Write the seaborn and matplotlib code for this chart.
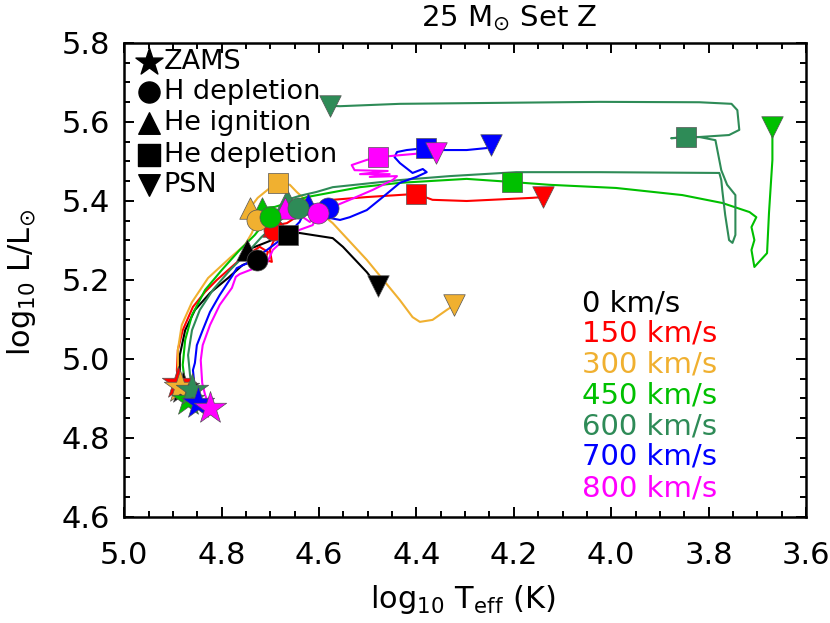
import numpy as np
import pandas as pd
import matplotlib
matplotlib.use("Agg")
import matplotlib.pyplot as plt
import seaborn as sns
from matplotlib.ticker import MultipleLocator

# ---------------- data ----------------
speeds = ["0 km/s", "150 km/s", "300 km/s", "450 km/s", "600 km/s", "700 km/s", "800 km/s"]
colors = ["#000000", "#FF0000", "#F0B030", "#00C000", "#2E8B57", "#0000FF", "#FF00FF"]

T_0 = [4.880, 4.886, 4.886, 4.875, 4.855, 4.824, 4.787, 4.757, 4.728, 4.742, 4.748, 4.711,
       4.681, 4.664, 4.640, 4.572, 4.551, 4.502, 4.480]
L_0 = [4.927, 4.959, 5.010, 5.073, 5.124, 5.167, 5.205, 5.238, 5.251, 5.268, 5.276, 5.294,
       5.309, 5.314, 5.319, 5.306, 5.284, 5.220, 5.185]

T_150 = [4.890, 4.892, 4.890, 4.880, 4.859, 4.834, 4.810, 4.763, 4.722, 4.705, 4.711, 4.697,
         4.701, 4.691, 4.693, 4.695, 4.666, 4.640, 4.605, 4.572, 4.502, 4.400, 4.367, 4.297,
         4.162, 4.141]
L_150 = [4.939, 4.972, 5.023, 5.073, 5.132, 5.170, 5.200, 5.251, 5.284, 5.271, 5.251, 5.246,
         5.276, 5.306, 5.327, 5.337, 5.344, 5.365, 5.390, 5.403, 5.410, 5.418, 5.403, 5.400,
         5.408, 5.410]

T_300 = [4.886, 4.890, 4.890, 4.882, 4.861, 4.828, 4.783, 4.752, 4.738, 4.728, 4.742, 4.726,
         4.701, 4.685, 4.660, 4.646, 4.605, 4.572, 4.502, 4.434, 4.408, 4.393, 4.367, 4.338,
         4.322]
L_300 = [4.929, 4.972, 5.023, 5.086, 5.144, 5.205, 5.256, 5.289, 5.319, 5.352, 5.382, 5.408,
         5.433, 5.446, 5.441, 5.423, 5.377, 5.344, 5.251, 5.149, 5.106, 5.094, 5.099, 5.124,
         5.137]

T_450 = [4.869, 4.875, 4.880, 4.875, 4.861, 4.834, 4.800, 4.763, 4.732, 4.711, 4.701, 4.718,
         4.691, 4.625, 4.516, 4.434, 4.297, 4.203, 4.127, 3.990, 3.854, 3.772, 3.716, 3.702,
         3.712, 3.706, 3.712, 3.706, 3.680, 3.676, 3.669, 3.669]
L_450 = [4.896, 4.934, 4.985, 5.048, 5.111, 5.175, 5.225, 5.276, 5.314, 5.347, 5.359, 5.382,
         5.385, 5.410, 5.435, 5.446, 5.456, 5.448, 5.441, 5.433, 5.415, 5.395, 5.372, 5.359,
         5.334, 5.301, 5.276, 5.233, 5.268, 5.370, 5.504, 5.587]

T_600 = [4.861, 4.865, 4.869, 4.861, 4.845, 4.818, 4.783, 4.746, 4.718, 4.691, 4.664, 4.644,
         4.666, 4.640, 4.605, 4.572, 4.434, 4.332, 4.195, 4.024, 3.778, 3.774, 3.772, 3.766,
         3.758, 3.751, 3.745, 3.745, 3.762, 3.774, 3.780, 3.786, 3.819, 3.846, 3.877, 3.819,
         3.758, 3.737, 3.741, 3.753, 3.819, 4.024, 4.434, 4.557, 4.578]
L_600 = [4.922, 4.959, 5.010, 5.073, 5.124, 5.175, 5.225, 5.271, 5.309, 5.339, 5.367, 5.382,
         5.403, 5.413, 5.423, 5.435, 5.453, 5.463, 5.473, 5.473, 5.471, 5.453, 5.428, 5.365,
         5.301, 5.294, 5.314, 5.415, 5.441, 5.478, 5.516, 5.554, 5.562, 5.562, 5.559, 5.562,
         5.567, 5.580, 5.630, 5.646, 5.650, 5.651, 5.646, 5.640, 5.641]

T_700 = [4.849, 4.855, 4.859, 4.855, 4.851, 4.839, 4.824, 4.804, 4.777, 4.769, 4.742, 4.707,
         4.666, 4.640, 4.623, 4.603, 4.582, 4.578, 4.557, 4.537, 4.502, 4.469, 4.434, 4.400,
         4.379, 4.387, 4.408, 4.434, 4.445, 4.440, 4.420, 4.381, 4.346, 4.297, 4.256, 4.246]
L_700 = [4.889, 4.922, 4.972, 4.990, 5.035, 5.073, 5.119, 5.162, 5.213, 5.230, 5.246, 5.276,
         5.314, 5.347, 5.392, 5.390, 5.382, 5.357, 5.352, 5.359, 5.377, 5.410, 5.446, 5.461,
         5.473, 5.481, 5.471, 5.496, 5.511, 5.524, 5.529, 5.534, 5.529, 5.529, 5.534, 5.542]

T_800 = [4.824, 4.834, 4.840, 4.843, 4.839, 4.824, 4.804, 4.779, 4.771, 4.763, 4.732, 4.707,
         4.695, 4.666, 4.640, 4.613, 4.603, 4.640, 4.670, 4.640, 4.619, 4.599, 4.572, 4.537,
         4.490, 4.449, 4.440, 4.496, 4.455, 4.516, 4.459, 4.527, 4.533, 4.502, 4.478, 4.434,
         4.379, 4.359]
L_800 = [4.876, 4.909, 4.939, 4.997, 5.035, 5.086, 5.137, 5.180, 5.208, 5.215, 5.230, 5.243,
         5.276, 5.309, 5.327, 5.339, 5.370, 5.377, 5.382, 5.365, 5.347, 5.370, 5.385, 5.403,
         5.428, 5.453, 5.463, 5.461, 5.468, 5.468, 5.476, 5.478, 5.491, 5.504, 5.511, 5.516,
         5.522, 5.522]

tracks_T = [T_0, T_150, T_300, T_450, T_600, T_700, T_800]
tracks_L = [L_0, L_150, L_300, L_450, L_600, L_700, L_800]

# evolutionary phase markers (per speed, same order as `speeds`)
zams_T = [4.880, 4.890, 4.886, 4.869, 4.861, 4.849, 4.824]
zams_L = [4.927, 4.939, 4.929, 4.896, 4.922, 4.889, 4.876]
hdep_T = [4.728, 4.693, 4.728, 4.701, 4.644, 4.582, 4.603]
hdep_L = [5.251, 5.327, 5.352, 5.359, 5.382, 5.382, 5.370]
heig_T = [4.748, 4.695, 4.742, 4.718, 4.666, 4.623, 4.670]
heig_L = [5.276, 5.337, 5.382, 5.382, 5.403, 5.392, 5.382]
hedep_T = [4.664, 4.400, 4.685, 4.203, 3.846, 4.381, 4.478]
hedep_L = [5.314, 5.418, 5.446, 5.448, 5.562, 5.534, 5.511]
psn_T = [4.480, 4.141, 4.322, 3.669, 4.578, 4.246, 4.359]
psn_L = [5.185, 5.410, 5.137, 5.587, 5.641, 5.542, 5.522]

phase_labels = ["ZAMS", "H depletion", "He ignition", "He depletion", "PSN"]

# ---------------- style ----------------
sns.set_style("white")
plt.rcParams["font.family"] = ["DejaVu Sans"]
plt.rcParams["mathtext.fontset"] = "dejavusans"
plt.rcParams["text.color"] = "black"
plt.rcParams["xtick.color"] = "black"
plt.rcParams["ytick.color"] = "black"
plt.rcParams["axes.labelcolor"] = "black"
plt.rcParams["axes.edgecolor"] = "black"

fig = plt.figure(figsize=(8.30, 6.23), dpi=100)
ax = fig.add_axes([124.3 / 830, 1 - 517 / 623, (806 - 124.3) / 830, (517 - 43) / 623])

# tracks
for T, L, c in zip(tracks_T, tracks_L, colors):
    sns.lineplot(x=T, y=L, sort=False, estimator=None, color=c, lw=1.5, ax=ax, zorder=2)

# markers
phase_specs = [
    (zams_T, zams_L, "*", 600),
    (heig_T, heig_L, "^", 240),
    (hdep_T, hdep_L, "o", 230),
    (hedep_T, hedep_L, "s", 210),
    (psn_T, psn_L, "v", 240),
]
z = 3
for PT, PL, mk, sz in phase_specs:
    for i, c in enumerate(colors):
        sns.scatterplot(x=[PT[i]], y=[PL[i]], marker=mk, s=sz, color=c,
                        edgecolor="#555555", linewidth=0.5, ax=ax, zorder=z, legend=False)
        z += 0.01

ax.set_xlim(5.0, 3.6)
ax.set_ylim(4.6, 5.8)
ax.xaxis.set_major_locator(MultipleLocator(0.2))
ax.xaxis.set_minor_locator(MultipleLocator(0.05))
ax.yaxis.set_major_locator(MultipleLocator(0.2))
ax.yaxis.set_minor_locator(MultipleLocator(0.05))
ax.xaxis.set_major_formatter(matplotlib.ticker.FormatStrFormatter("%.1f"))
ax.yaxis.set_major_formatter(matplotlib.ticker.FormatStrFormatter("%.1f"))
ax.tick_params(which="both", direction="in", top=True, right=True, bottom=True, left=True,
               width=1.4, color="black", labelcolor="black")
ax.tick_params(which="major", length=7.5)
ax.tick_params(which="minor", length=4.5)
ax.tick_params(axis="x", which="major", labelsize=22, pad=17)
ax.tick_params(axis="y", which="major", labelsize=22, pad=10)
for s in ax.spines.values():
    s.set_linewidth(1.8)
    s.set_color("black")

fig.canvas.draw()
ylabels = ax.get_yticklabels()
ylabels[-1].set_va("top")
ylabels[0].set_va("bottom")

# axis labels and title
fig.text(463 / 830, 1 - 600 / 623, r"log$_{10}$ T$_{\rm eff}$ (K)", fontsize=22,
         ha="center", va="center")
fig.text(21 / 830, 1 - 283 / 623, r"log$_{10}$ L/L$_{\odot}$", fontsize=22,
         ha="center", va="center", rotation=90)
fig.text(509 / 830, 1 - 18 / 623, r"25 M$_{\odot}$ Set Z", fontsize=21,
         ha="center", va="center")

# phase legend (black symbols)
leg_markers = ["*", "o", "^", "s", "v"]
leg_sizes = [420, 230, 240, 230, 240]
leg_y = [0.960, 0.897, 0.831, 0.764, 0.700]
for mk, sz, yy, lab in zip(leg_markers, leg_sizes, leg_y, phase_labels):
    ax.scatter([0.0362], [yy], marker=mk, s=sz, color="black", transform=ax.transAxes,
               zorder=6, clip_on=False)
    ax.text(0.058, yy, lab, transform=ax.transAxes, fontsize=19.5, ha="left", va="center",
            color="black")

# speed labels
speed_y = [0.451, 0.388, 0.321, 0.257, 0.190, 0.127, 0.061]
for lab, c, yy in zip(speeds, colors, speed_y):
    ax.text(0.671, yy, lab, transform=ax.transAxes, fontsize=21, ha="left", va="center",
            color=c)

fig.savefig("out.png", dpi=100)
